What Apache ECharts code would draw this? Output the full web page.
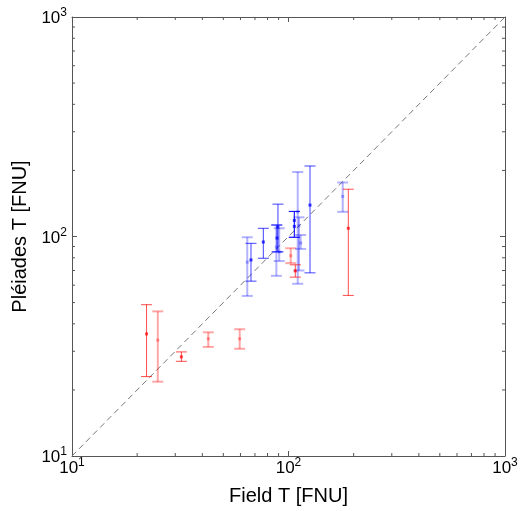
<!DOCTYPE html>
<html>
<head>
<meta charset="utf-8">
<script src="https://cdn.jsdelivr.net/npm/echarts@6/dist/echarts.min.js"></script>
<style>
html,body{margin:0;padding:0;background:#fff;}
#c{width:529px;height:511px;}
</style>
</head>
<body>
<div id="c"></div>
<script>
// [fieldT, pleiadesT, low, high]
const redDark = [
  [22.1, 36.0, 23.0, 48.9],
  [32.0, 28.3, 27.0, 29.8],
  [107.5, 69.7, 65.3, 74.3],
  [188.9, 109.0, 53.9, 164.2]
];
const redLight = [
  [24.9, 33.7, 21.8, 45.6],
  [42.6, 34.2, 31.4, 36.6],
  [59.5, 34.2, 30.8, 37.8],
  [102.4, 81.8, 75.6, 88.4]
];
const blueDark = [
  [67.1, 78.2, 62.6, 93.1],
  [76.5, 94.4, 79.6, 109.0],
  [89.4, 110.4, 85.1, 140.4],
  [88.5, 98.4, 85.1, 112.8],
  [106.4, 118.4, 99.2, 130.1],
  [106.4, 111.2, 99.2, 130.1],
  [125.7, 139.0, 68.3, 209.5]
];
const blueLight = [
  [64.5, 76.4, 53.6, 99.2],
  [87.9, 89.6, 66.2, 112.8],
  [90.6, 85.1, 77.3, 109.0],
  [110.3, 129.5, 60.9, 196.7],
  [111.8, 112.0, 70.0, 122.3],
  [113.8, 93.4, 87.8, 101.6],
  [178.0, 152.2, 129.5, 176.2]
];
const axisMin = 10, axisMax = 1000;
const minorTicks = [20,30,40,50,60,70,80,90,200,300,400,500,600,700,800,900];
const oneToOne = [[10,10],[1000,1000]];

const FONT = 'Liberation Sans, Arial, sans-serif';
const AXC = '#555';

function errRender(color, width) {
  return function (params, api) {
    const x = api.value(0), y = api.value(1), lo = api.value(2), hi = api.value(3);
    const pLo = api.coord([x, lo]), pHi = api.coord([x, hi]), p = api.coord([x, y]);
    const hw = 5.5;
    const st = {stroke: color, lineWidth: width};
    return {type: 'group', children: [
      {type: 'line', shape: {x1: pLo[0], y1: pLo[1], x2: pHi[0], y2: pHi[1]}, style: st},
      {type: 'line', shape: {x1: pLo[0]-hw, y1: pLo[1], x2: pLo[0]+hw, y2: pLo[1]}, style: st},
      {type: 'line', shape: {x1: pHi[0]-hw, y1: pHi[1], x2: pHi[0]+hw, y2: pHi[1]}, style: st},
      {type: 'rect', shape: {x: p[0]-1.5, y: p[1]-1.5, width: 3, height: 3}, style: {fill: color}}
    ]};
  };
}

function errSeries(data, color, width) {
  return {
    type: 'custom', data: data, renderItem: errRender(color, width),
    encode: {x: 0, y: [1, 2, 3]}, z: 5, silent: true
  };
}

const labelFmt = function (v) {
  const e = Math.round(Math.log10(v));
  return '{b|10}{s|' + e + '}';
};
const rich = {
  b: {fontSize: 17, fontFamily: FONT, color: '#000', verticalAlign: 'bottom', lineHeight: 20},
  s: {fontSize: 12, fontFamily: FONT, color: '#000', verticalAlign: 'bottom', padding: [0, 0, 8, 0], lineHeight: 20}
};

const baseAxis = {
  type: 'log', logBase: 10, min: axisMin, max: axisMax,
  axisLine: {show: true, lineStyle: {color: AXC, width: 1}},
  axisTick: {show: true, inside: true, length: 5, lineStyle: {color: AXC}},
  splitLine: {show: false},
  minorTick: {show: false}
};

const chart = echarts.init(document.getElementById('c'), null, {renderer: 'canvas'});
chart.setOption({
  animation: false,
  backgroundColor: '#fff',
  grid: {left: 72, top: 17, right: 24, bottom: 53, containLabel: false},
  xAxis: [
    Object.assign({}, baseAxis, {
      position: 'bottom',
      name: 'Field T [FNU]', nameLocation: 'middle', nameGap: 30,
      nameTextStyle: {fontSize: 20, fontFamily: FONT, color: '#000'},
      axisLabel: {formatter: labelFmt, rich: rich, margin: 1}
    }),
    Object.assign({}, baseAxis, {position: 'top', axisLabel: {show: false}})
  ],
  yAxis: [
    Object.assign({}, baseAxis, {
      position: 'left',
      name: 'Pléiades T [FNU]', nameLocation: 'middle', nameGap: 40, nameRotate: 90,
      nameTextStyle: {fontSize: 20, fontFamily: FONT, color: '#000'},
      axisLabel: {formatter: labelFmt, rich: rich, margin: 5}
    }),
    Object.assign({}, baseAxis, {position: 'right', axisLabel: {show: false}})
  ],
  series: [
    {
      type: 'line', data: oneToOne, symbol: 'none', silent: true,
      lineStyle: {color: '#777', width: 1, type: [6, 4]}, z: 2
    },
    {
      type: 'custom', data: minorTicks.map(v => [v, axisMin]), silent: true,
      encode: {x: 0, y: 1},
      renderItem: function (params, api) {
        const cs = params.coordSys;
        const px = api.coord([api.value(0), axisMin])[0];
        const st = {stroke: AXC, lineWidth: 1};
        return {type: 'group', children: [
          {type: 'line', shape: {x1: px, y1: cs.y + cs.height, x2: px, y2: cs.y + cs.height - 3}, style: st},
          {type: 'line', shape: {x1: px, y1: cs.y, x2: px, y2: cs.y + 3}, style: st}
        ]};
      }
    },
    {
      type: 'custom', data: minorTicks.map(v => [axisMin, v]), silent: true,
      encode: {x: 0, y: 1},
      renderItem: function (params, api) {
        const cs = params.coordSys;
        const py = api.coord([axisMin, api.value(1)])[1];
        const st = {stroke: AXC, lineWidth: 1};
        return {type: 'group', children: [
          {type: 'line', shape: {x1: cs.x, y1: py, x2: cs.x + 3, y2: py}, style: st},
          {type: 'line', shape: {x1: cs.x + cs.width, y1: py, x2: cs.x + cs.width - 3, y2: py}, style: st}
        ]};
      }
    },
    errSeries(redLight, 'rgba(255,0,0,0.35)', 2),
    errSeries(blueLight, 'rgba(0,0,255,0.3)', 2),
    errSeries(redDark, 'rgba(255,0,0,0.7)', 1),
    errSeries(blueDark, 'rgba(0,0,255,0.75)', 1)
  ]
});
</script>
</body>
</html>
